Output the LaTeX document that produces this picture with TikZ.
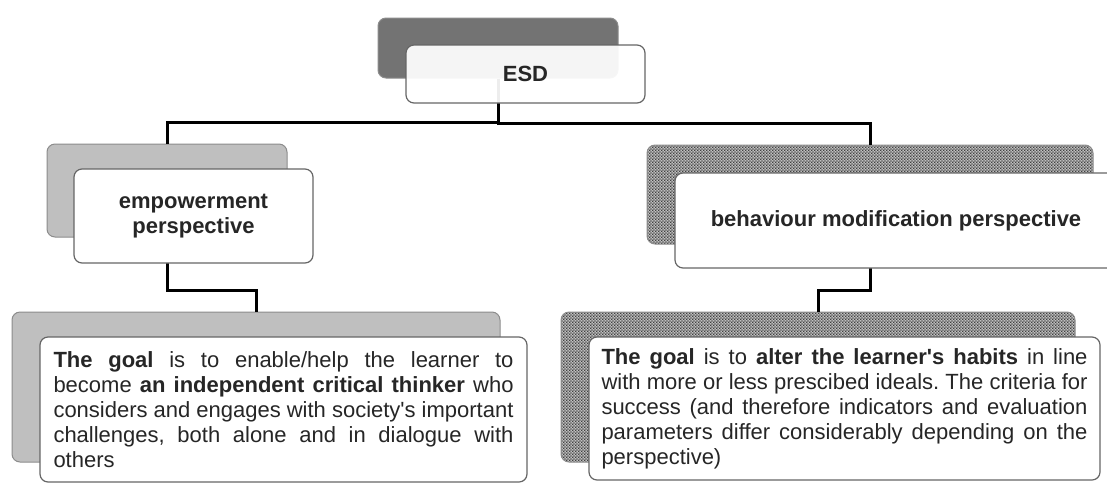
\documentclass[tikz,border=0pt]{standalone}
\usepackage{fontspec}
\setmainfont{Liberation Sans}
\usetikzlibrary{positioning,backgrounds,patterns.meta}

\tikzdeclarepattern{
  name=smallchecks,
  type=uncolored,
  bottom left={(0pt,0pt)},
  top right={(1.6pt,1.6pt)},
  tile size={(1.6pt,1.6pt)},
  code={
    \fill (0pt,0pt) rectangle (0.8pt,0.8pt);
    \fill (0.8pt,0.8pt) rectangle (1.6pt,1.6pt);
  }
}

\begin{document}
\begin{tikzpicture}[x=0.5pt,y=-0.5pt,
  front/.style={rectangle, rounded corners=4pt, draw=black!60, line width=0.6pt, fill=white, align=center, text=black!85, inner sep=0pt, font=\fontsize{11}{12.5}\selectfont\bfseries},
  goal/.style={front, align=justify, font=\fontsize{11}{12.5}\selectfont, execute at begin node={\hyphenpenalty=10000\relax\frenchspacing}},
  back/.style={rectangle, rounded corners=4pt, draw=black!45, line width=0.5pt, inner sep=0pt},
  solidback/.style={back, fill=#1},
  checkback/.style={back, preaction={fill=black!25}, pattern=smallchecks, pattern color=black!75},
  link/.style={draw=black, line width=1.5pt}]

\useasboundingbox (0,0) rectangle (1107,483);

% FRONT BOXES

\node [front, minimum width=119.5pt, minimum height=29pt, fill opacity=0.93, text opacity=1] (esd) at (525.5,74) {ESD};

\node [front, minimum width=119.5pt, minimum height=47pt] (empower) at (193.5,216) {empowerment\\perspective};

\node [front, minimum width=221pt, minimum height=47.5pt] (behaviour) at (896,220.5) {behaviour modification perspective};

\node [goal, minimum width=243.5pt, minimum height=72.5pt, text width=230pt] (goal-empower) at (283.5,409.5)
{\textbf{The goal} is to enable/help the learner to\linebreak
become \textbf{an independent critical thinker} who\linebreak
considers and engages with society\textquotesingle s important\linebreak
challenges, both alone and in dialogue with\linebreak
others};

\node [goal, minimum width=255.5pt, minimum height=71.5pt, text width=243pt] (goal-behaviour) at (844.5,408.5)
{\textbf{The goal} is to \textbf{alter the learner\textquotesingle s habits} in line\linebreak
with more or less prescibed ideals. The criteria for\linebreak
success (and therefore indicators and evaluation\linebreak
parameters differ considerably depending on the\linebreak
perspective)};

% BACK BOXES AND LINKS

\begin{scope}[on background layer]
\node [solidback=black!55, minimum width=120pt, minimum height=30pt] (esd-back) at ([shift={(-27.5,-26)}]esd.center) {};
\node [solidback=black!25, minimum width=120pt, minimum height=46.5pt] (empower-back) at ([shift={(-26.5,-25.5)}]empower.center) {};
\node [checkback, minimum width=223pt, minimum height=49.5pt] (behaviour-back) at ([shift={(-26,-26)}]behaviour.center) {};
\node [solidback=black!25, minimum width=244pt, minimum height=75pt] (goal-empower-back) at ([shift={(-27.5,-22.5)}]goal-empower.center) {};
\node [checkback, minimum width=257pt, minimum height=75pt] (goal-behaviour-back) at ([shift={(-26.5,-21.5)}]goal-behaviour.center) {};

\draw [link] (esd-back.south) |- ([yshift=10.5pt]empower-back.north) -- (empower-back.north);
\draw [link] (esd-back.south) |- ([yshift=10.5pt]behaviour-back.north) -- (behaviour-back.north);
\draw [link] (empower-back.south) |- ([yshift=10.5pt]goal-empower-back.north) -- (goal-empower-back.north);
\draw [link] (behaviour-back.south) |- ([yshift=10.5pt]goal-behaviour-back.north) -- (goal-behaviour-back.north);
\end{scope}

\end{tikzpicture}
\end{document}
